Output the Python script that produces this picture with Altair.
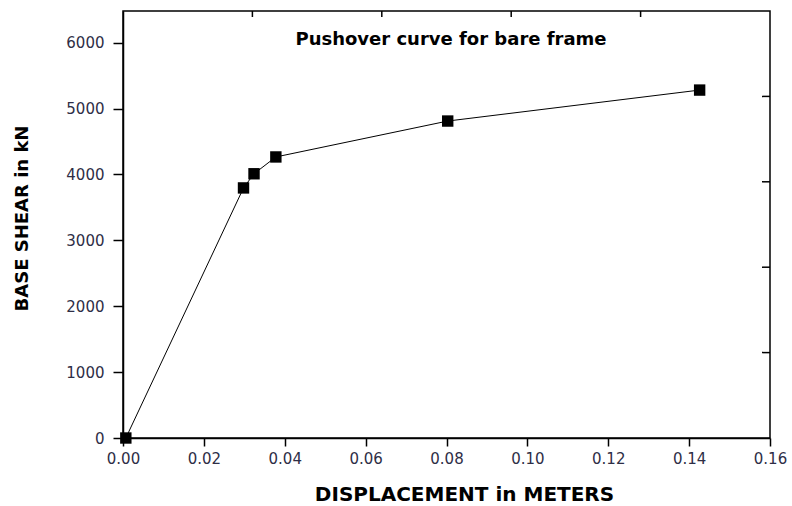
import altair as alt
import pandas as pd

# Data
displacement = [0.0007, 0.0298, 0.0324, 0.0378, 0.0803, 0.1426]
base_shear = [0, 3795, 4010, 4265, 4810, 5280]

# mirrored (unlabelled) axis ticks on top and right: 5 equal divisions
top_ticks = [0.032, 0.064, 0.096, 0.128]
right_ticks = [1296, 2592, 3888, 5184]

X_MAX = 0.16
Y_MAX = 6480

df = pd.DataFrame({"d": displacement, "v": base_shear})
top_df = pd.DataFrame({"t": top_ticks})
right_df = pd.DataFrame({"t": right_ticks})

FONT = "DejaVu Sans"
LABEL_COLOR = "#2e2e46"

xscale = alt.Scale(domain=[0, X_MAX], nice=False, zero=False)
yscale = alt.Scale(domain=[0, Y_MAX], nice=False, zero=False)

x_axis = alt.Axis(
    title="DISPLACEMENT in METERS",
    values=[0, 0.02, 0.04, 0.06, 0.08, 0.10, 0.12, 0.14, 0.16],
    format=".2f",
    grid=False,
    domainColor="black", domainWidth=1.5,
    tickColor="black", tickWidth=1.5, tickSize=8,
    labelFont=FONT, labelFontSize=15, labelColor=LABEL_COLOR, labelPadding=5,
    labelFlush=False,
    titleFont=FONT, titleFontSize=20, titleFontWeight="bold", titleColor="black",
    titleX=341, titleY=56, titleBaseline="middle",
)
y_axis = alt.Axis(
    title="BASE SHEAR in kN",
    values=[0, 1000, 2000, 3000, 4000, 5000, 6000],
    format="d",
    grid=False,
    domainColor="black", domainWidth=1.5,
    tickColor="black", tickWidth=1.5, tickSize=10,
    labelFont=FONT, labelFontSize=15, labelColor=LABEL_COLOR, labelPadding=9,
    titleFont=FONT, titleFontSize=18, titleFontWeight="bold", titleColor="black",
    titleY=207, titleX=-92,
)

line = alt.Chart(df).mark_line(color="black", strokeWidth=1).encode(
    x=alt.X("d:Q", scale=xscale, axis=x_axis),
    y=alt.Y("v:Q", scale=yscale, axis=y_axis),
)
pts = alt.Chart(df).mark_square(color="black", size=130, opacity=1, filled=True).encode(
    x=alt.X("d:Q", scale=xscale),
    y=alt.Y("v:Q", scale=yscale),
)
top_marks = alt.Chart(top_df).mark_rule(color="black", strokeWidth=1.5).encode(
    x=alt.X("t:Q", scale=xscale),
    y=alt.value(0),
    y2=alt.value(6),
)
right_marks = alt.Chart(right_df).mark_rule(color="black", strokeWidth=1.5).encode(
    y=alt.Y("t:Q", scale=yscale),
    x=alt.value(639),
    x2=alt.value(647),
)
title = alt.Chart(pd.DataFrame({"s": ["Pushover curve for bare frame"]})).mark_text(
    font=FONT, fontSize=18, fontWeight="bold", color="black", align="center", baseline="middle"
).encode(
    text="s:N",
    x=alt.value(328),
    y=alt.value(29),
)

chart = alt.layer(line, pts, top_marks, right_marks, title).properties(
    width=647, height=427,
    autosize=alt.AutoSizeParams(type="none"),
    padding={"left": 123, "top": 11, "right": 22, "bottom": 68},
    background="white",
).configure_view(
    stroke="black", strokeWidth=1.5
)

chart.save("out.html", embed_options={"renderer": "svg", "actions": False})
